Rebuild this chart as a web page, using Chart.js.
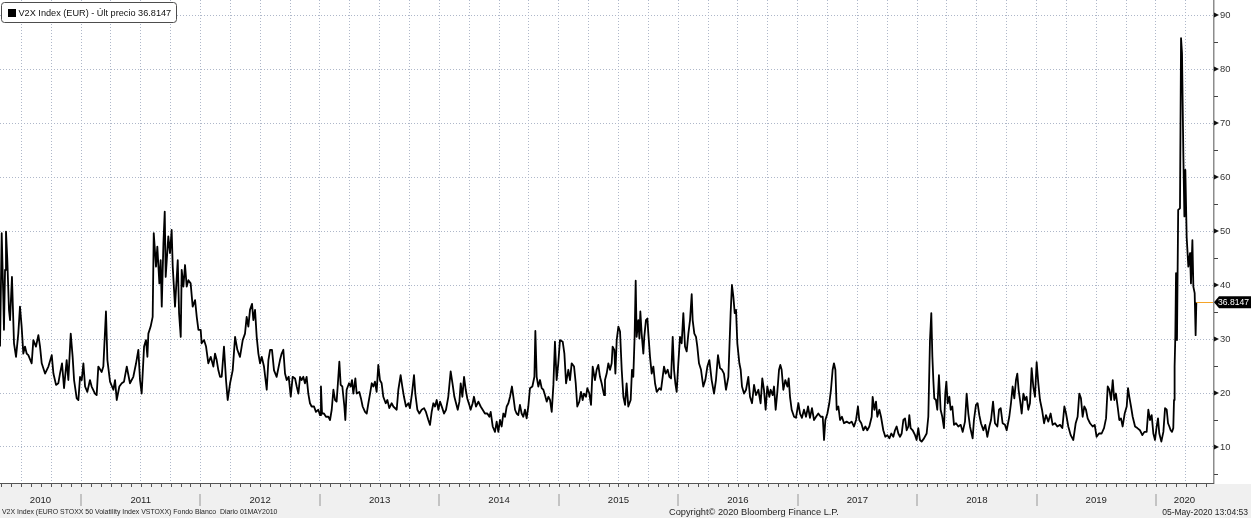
<!DOCTYPE html>
<html>
<head>
<meta charset="utf-8">
<script src="https://cdn.jsdelivr.net/npm/chart.js@4.4.1/dist/chart.umd.min.js"></script>
<style>
html,body{margin:0;padding:0;background:#fff;overflow:hidden}
canvas{display:block}
</style>
</head>
<body>
<canvas id="c" width="1251" height="518"></canvas>
<script>
// ---- DATA (decimal year, V2X level) ----
const y2010 = [[2010.322,28.6],[2010.336,49.6],[2010.350,37.2],[2010.355,31.7],[2010.364,42.8],[2010.372,49.9],[2010.383,44.6],[2010.397,35.4],[2010.406,33.5],[2010.422,41.5],[2010.439,29.2],[2010.456,26.7],[2010.475,31.0],[2010.489,36.0],[2010.503,32.3],[2010.517,27.3],[2010.531,28.6],[2010.545,27.3],[2010.559,27.0],[2010.587,25.5],[2010.601,29.8],[2010.623,28.6],[2010.643,30.7],[2010.657,28.6],[2010.671,25.5],[2010.699,23.6],[2010.727,24.9],[2010.755,27.0],[2010.769,23.6],[2010.791,21.5],[2010.810,21.8],[2010.824,23.6],[2010.841,25.5],[2010.858,20.9],[2010.880,26.1],[2010.894,22.4],[2010.914,31.0],[2010.930,26.7],[2010.942,22.4],[2010.964,19.0],[2010.978,18.7],[2010.992,23.0]];
const y2011 = [[2011.006,22.4],[2011.020,25.5],[2011.034,21.2],[2011.053,20.2],[2011.075,22.4],[2011.089,21.2],[2011.117,19.9],[2011.131,19.6],[2011.145,24.9],[2011.173,23.9],[2011.187,24.9],[2011.209,35.1],[2011.221,26.1],[2011.243,22.1],[2011.271,20.6],[2011.285,22.4],[2011.299,18.7],[2011.321,21.2],[2011.341,21.8],[2011.360,22.1],[2011.383,24.9],[2011.410,21.8],[2011.438,23.0],[2011.461,25.5],[2011.480,28.0],[2011.494,22.4],[2011.508,19.9],[2011.528,28.6],[2011.544,29.8],[2011.556,26.7],[2011.564,31.0],[2011.583,32.3],[2011.600,34.1],[2011.609,49.6],[2011.628,43.4],[2011.639,47.1],[2011.656,40.3],[2011.667,44.6],[2011.676,36.0],[2011.690,47.7],[2011.701,53.6],[2011.709,41.5],[2011.731,49.0],[2011.745,45.9],[2011.759,50.2],[2011.768,43.4],[2011.787,36.0],[2011.810,44.6],[2011.821,34.8],[2011.835,30.4],[2011.843,42.8],[2011.857,39.7],[2011.871,43.7],[2011.885,39.7],[2011.899,40.9],[2011.918,40.3],[2011.935,36.0],[2011.955,37.2],[2011.969,34.1],[2011.983,31.7]];
const y2012 = [[2012.002,31.7],[2012.010,29.2],[2012.030,29.8],[2012.047,28.6],[2012.066,25.5],[2012.086,26.7],[2012.108,24.9],[2012.122,27.3],[2012.136,26.1],[2012.150,24.2],[2012.164,23.0],[2012.178,23.0],[2012.197,28.6],[2012.214,22.4],[2012.228,18.7],[2012.248,21.8],[2012.270,24.2],[2012.290,30.4],[2012.309,28.0],[2012.331,26.7],[2012.354,29.8],[2012.373,31.0],[2012.387,34.1],[2012.401,32.3],[2012.415,35.4],[2012.432,36.5],[2012.443,33.5],[2012.457,35.4],[2012.471,30.4],[2012.485,27.3],[2012.499,25.5],[2012.513,26.7],[2012.532,24.9],[2012.555,20.6],[2012.569,26.1],[2012.583,28.0],[2012.599,28.0],[2012.616,24.2],[2012.638,23.0],[2012.666,26.1],[2012.680,27.3],[2012.694,28.0],[2012.708,23.6],[2012.722,22.4],[2012.739,23.0],[2012.756,19.3],[2012.772,23.0],[2012.792,22.7],[2012.806,21.2],[2012.820,19.9],[2012.834,23.0],[2012.847,22.4],[2012.861,23.0],[2012.875,21.8],[2012.889,23.0],[2012.903,19.9],[2012.917,18.1],[2012.931,17.5],[2012.951,17.5],[2012.967,16.5],[2012.987,16.9]];
const y2013 = [[2013.001,15.9],[2013.009,21.2],[2013.018,16.2],[2013.034,16.2],[2013.051,15.6],[2013.071,15.6],[2013.085,15.0],[2013.099,16.9],[2013.113,20.6],[2013.127,18.7],[2013.140,18.4],[2013.149,21.2],[2013.163,25.8],[2013.174,21.5],[2013.188,21.2],[2013.205,17.5],[2013.213,15.0],[2013.224,20.6],[2013.244,21.8],[2013.258,21.2],[2013.269,22.4],[2013.280,19.9],[2013.297,22.7],[2013.308,19.9],[2013.330,20.2],[2013.344,19.0],[2013.358,17.5],[2013.378,16.5],[2013.392,16.2],[2013.406,18.1],[2013.420,19.9],[2013.434,21.8],[2013.448,21.2],[2013.461,22.1],[2013.475,20.2],[2013.489,25.2],[2013.503,22.4],[2013.517,21.8],[2013.531,19.3],[2013.551,18.1],[2013.565,18.7],[2013.581,17.2],[2013.601,18.1],[2013.615,17.5],[2013.643,16.9],[2013.657,20.6],[2013.676,23.3],[2013.690,21.2],[2013.704,19.3],[2013.721,17.5],[2013.741,18.1],[2013.754,17.2],[2013.771,19.9],[2013.788,23.3],[2013.799,19.9],[2013.816,16.9],[2013.833,16.2],[2013.852,16.9],[2013.872,17.2],[2013.888,16.5],[2013.908,15.0],[2013.922,14.1],[2013.936,16.5],[2013.950,18.1],[2013.964,17.5],[2013.978,18.7],[2013.992,16.9]];
const y2014 = [[2014.006,18.4],[2014.025,17.2],[2014.039,16.2],[2014.056,16.9],[2014.075,19.3],[2014.095,24.0],[2014.112,21.5],[2014.126,19.3],[2014.140,18.1],[2014.154,16.9],[2014.168,18.4],[2014.179,21.8],[2014.193,19.3],[2014.207,23.0],[2014.221,20.6],[2014.234,19.0],[2014.251,17.8],[2014.262,16.9],[2014.279,18.1],[2014.290,19.3],[2014.307,17.5],[2014.327,18.4],[2014.346,17.5],[2014.363,16.9],[2014.382,16.2],[2014.402,16.2],[2014.419,15.6],[2014.430,16.5],[2014.447,13.8],[2014.466,12.8],[2014.480,14.7],[2014.494,12.8],[2014.508,15.0],[2014.522,13.8],[2014.536,16.2],[2014.550,15.6],[2014.564,17.5],[2014.578,18.1],[2014.592,19.3],[2014.608,21.2],[2014.620,19.3],[2014.634,16.9],[2014.647,16.2],[2014.661,15.9],[2014.675,17.8],[2014.689,16.2],[2014.703,15.6],[2014.717,16.9],[2014.731,15.3],[2014.745,17.5],[2014.759,20.9],[2014.779,21.2],[2014.796,23.0],[2014.804,31.5],[2014.815,23.0],[2014.829,21.2],[2014.843,22.4],[2014.857,20.9],[2014.871,20.6],[2014.885,19.6],[2014.899,18.4],[2014.913,19.3],[2014.927,18.7],[2014.941,16.5],[2014.955,21.5],[2014.968,29.5],[2014.982,22.4],[2014.996,25.5]];
const y2015 = [[2015.010,29.8],[2015.033,29.5],[2015.047,27.3],[2015.061,21.8],[2015.080,24.3],[2015.094,22.4],[2015.108,25.5],[2015.128,24.9],[2015.142,21.8],[2015.155,17.5],[2015.172,18.4],[2015.186,20.2],[2015.200,18.7],[2015.211,19.9],[2015.228,19.3],[2015.239,20.9],[2015.256,19.9],[2015.270,17.8],[2015.284,24.9],[2015.303,22.4],[2015.317,24.3],[2015.331,25.2],[2015.345,23.0],[2015.359,21.8],[2015.379,19.6],[2015.387,22.4],[2015.401,23.6],[2015.415,25.5],[2015.429,24.3],[2015.443,25.5],[2015.451,28.6],[2015.465,28.0],[2015.474,23.6],[2015.485,29.8],[2015.499,32.3],[2015.513,31.4],[2015.527,24.3],[2015.541,19.3],[2015.555,17.8],[2015.568,21.8],[2015.582,17.5],[2015.602,18.7],[2015.613,24.3],[2015.624,23.0],[2015.635,30.4],[2015.644,40.8],[2015.652,30.4],[2015.666,33.5],[2015.675,30.1],[2015.683,35.1],[2015.694,31.0],[2015.708,27.3],[2015.716,30.4],[2015.730,33.5],[2015.742,33.8],[2015.750,31.0],[2015.764,26.7],[2015.778,23.6],[2015.792,24.9],[2015.806,21.8],[2015.820,20.2],[2015.842,20.9],[2015.856,20.6],[2015.870,23.0],[2015.881,24.9],[2015.895,23.6],[2015.912,24.3],[2015.926,23.0],[2015.940,22.7],[2015.954,30.4],[2015.965,24.3],[2015.976,21.8],[2015.987,20.2]];
const y2016 = [[2016.001,25.5],[2016.015,30.4],[2016.029,29.2],[2016.043,34.8],[2016.057,28.6],[2016.071,27.7],[2016.085,31.0],[2016.099,33.5],[2016.113,38.3],[2016.121,33.5],[2016.135,31.0],[2016.149,30.4],[2016.160,28.6],[2016.174,25.5],[2016.191,24.3],[2016.210,21.2],[2016.227,22.4],[2016.244,24.9],[2016.261,26.1],[2016.280,22.4],[2016.300,19.9],[2016.316,22.4],[2016.333,27.0],[2016.350,24.6],[2016.367,24.3],[2016.383,23.6],[2016.400,20.6],[2016.420,23.0],[2016.439,34.8],[2016.450,40.0],[2016.462,37.8],[2016.473,34.8],[2016.484,35.4],[2016.495,29.2],[2016.512,25.5],[2016.523,24.3],[2016.534,21.2],[2016.551,19.9],[2016.568,20.6],[2016.587,23.0],[2016.601,19.3],[2016.618,18.1],[2016.635,21.5],[2016.651,19.6],[2016.671,20.6],[2016.690,18.1],[2016.704,22.7],[2016.718,20.6],[2016.732,16.9],[2016.746,21.2],[2016.763,19.3],[2016.774,20.6],[2016.791,19.6],[2016.802,21.2],[2016.816,16.9],[2016.830,20.2],[2016.844,24.3],[2016.855,25.2],[2016.866,24.3],[2016.880,20.6],[2016.897,22.4],[2016.914,21.2],[2016.925,22.7],[2016.936,19.3],[2016.950,16.9],[2016.970,15.6],[2016.986,15.4]];
const y2017 = [[2017.006,18.1],[2017.020,16.2],[2017.036,15.4],[2017.053,16.9],[2017.070,15.6],[2017.087,17.5],[2017.103,15.4],[2017.120,17.2],[2017.137,15.0],[2017.154,15.6],[2017.173,16.2],[2017.193,15.6],[2017.210,15.6],[2017.221,11.3],[2017.232,15.0],[2017.249,16.2],[2017.265,18.1],[2017.279,20.6],[2017.293,24.3],[2017.304,25.5],[2017.316,24.3],[2017.327,16.9],[2017.341,17.5],[2017.355,15.0],[2017.371,15.6],[2017.388,14.4],[2017.410,14.7],[2017.433,14.4],[2017.452,14.7],[2017.472,13.8],[2017.489,15.0],[2017.505,17.5],[2017.516,15.0],[2017.533,14.4],[2017.550,13.1],[2017.567,13.8],[2017.583,13.1],[2017.600,13.8],[2017.620,15.6],[2017.628,19.3],[2017.642,16.9],[2017.656,18.4],[2017.667,15.6],[2017.684,16.9],[2017.698,15.6],[2017.717,13.1],[2017.734,11.9],[2017.751,12.2],[2017.768,11.6],[2017.784,12.5],[2017.801,11.9],[2017.815,13.1],[2017.829,13.8],[2017.843,12.5],[2017.857,11.9],[2017.871,12.5],[2017.885,15.0],[2017.899,15.3],[2017.913,13.1],[2017.927,13.8],[2017.935,15.9],[2017.946,13.5],[2017.963,13.1],[2017.983,12.2],[2017.996,11.3]];
const y2018 = [[2018.010,13.5],[2018.024,11.3],[2018.038,11.0],[2018.058,11.6],[2018.080,12.5],[2018.094,15.6],[2018.108,29.8],[2018.119,34.8],[2018.128,26.7],[2018.136,22.4],[2018.144,19.0],[2018.158,18.7],[2018.169,16.9],[2018.183,23.3],[2018.197,16.9],[2018.211,15.6],[2018.225,13.5],[2018.236,19.9],[2018.245,22.1],[2018.256,18.1],[2018.270,19.3],[2018.281,16.9],[2018.295,17.5],[2018.309,14.1],[2018.326,14.4],[2018.345,13.8],[2018.365,14.1],[2018.382,12.8],[2018.401,14.7],[2018.415,19.9],[2018.429,16.2],[2018.443,13.8],[2018.465,11.6],[2018.476,15.0],[2018.493,17.8],[2018.507,18.1],[2018.521,15.9],[2018.535,14.4],[2018.555,13.1],[2018.571,14.1],[2018.588,11.9],[2018.605,13.8],[2018.619,15.0],[2018.636,18.4],[2018.652,14.4],[2018.672,13.8],[2018.686,16.9],[2018.700,17.2],[2018.716,14.4],[2018.736,14.1],[2018.750,13.1],[2018.772,15.6],[2018.786,18.1],[2018.800,21.2],[2018.814,19.0],[2018.828,22.4],[2018.839,23.6],[2018.850,20.6],[2018.862,18.7],[2018.876,16.2],[2018.890,19.9],[2018.903,18.7],[2018.917,19.3],[2018.931,16.9],[2018.945,18.1],[2018.959,24.6],[2018.973,21.2],[2018.987,19.3]];
const y2019 = [[2019.001,25.7],[2019.015,21.8],[2019.029,18.7],[2019.046,16.9],[2019.063,14.4],[2019.079,15.9],[2019.099,14.7],[2019.118,16.2],[2019.135,14.1],[2019.155,14.4],[2019.174,13.8],[2019.197,14.1],[2019.216,13.5],[2019.233,17.5],[2019.247,16.2],[2019.266,13.8],[2019.286,12.2],[2019.308,11.3],[2019.328,14.4],[2019.344,15.6],[2019.358,19.9],[2019.372,19.0],[2019.386,15.6],[2019.400,17.5],[2019.414,16.9],[2019.428,15.3],[2019.448,14.4],[2019.470,13.8],[2019.487,14.1],[2019.503,11.9],[2019.523,12.5],[2019.545,12.5],[2019.565,13.5],[2019.582,15.3],[2019.596,21.2],[2019.610,20.6],[2019.624,18.7],[2019.638,22.4],[2019.651,18.7],[2019.665,19.9],[2019.679,17.5],[2019.693,15.0],[2019.707,15.3],[2019.721,13.8],[2019.738,16.2],[2019.755,17.5],[2019.766,20.9],[2019.777,19.3],[2019.791,17.5],[2019.805,15.6],[2019.825,13.8],[2019.844,13.5],[2019.866,13.1],[2019.886,12.2],[2019.903,12.8],[2019.922,12.8],[2019.936,16.9],[2019.950,15.0],[2019.964,15.9],[2019.978,12.5],[2019.992,11.3]];
const y2020 = [[2020.006,13.8],[2020.017,15.3],[2020.028,12.5],[2020.045,11.0],[2020.062,12.8],[2020.076,17.2],[2020.090,16.9],[2020.101,14.4],[2020.112,13.8],[2020.123,13.1],[2020.134,12.8],[2020.145,13.5],[2020.151,18.7],[2020.156,24.9],[2020.162,30.4],[2020.168,42.2],[2020.176,29.8],[2020.186,53.9],[2020.201,54.2],[2020.210,85.7],[2020.218,82.9],[2020.229,64.4],[2020.238,52.7],[2020.246,61.3],[2020.257,48.9],[2020.271,43.4],[2020.285,45.9],[2020.293,40.3],[2020.305,48.3],[2020.313,39.7],[2020.324,38.5],[2020.332,30.7],[2020.338,36.8147]];

const lastPrice = 36.8147;
const lastDate = 2020.338;
const yTickValues = [10, 20, 30, 40, 50, 60, 70, 80, 90];
const yMinorTicks = [5, 15, 25, 35, 45, 55, 65, 75, 85];
const yearLabels = ['2010','2011','2012','2013','2014','2015','2016','2017','2018','2019','2020'];
const legendText = 'V2X Index (EUR) - Últ precio 36.8147';
const priceTag = '36.8147';
const footerLeft = 'V2X Index (EURO STOXX 50 Volatility Index VSTOXX) Fondo Blanco  Diario 01MAY2010';
const footerMid = 'Copyright\u00A9 2020 Bloomberg Finance L.P.';
const footerRight = '05-May-2020 13:04:53';

// ---- axis ranges ----
const X_MIN = 2010.3218, X_MAX = 2020.4775;
const Y_MIN = 3.333, Y_MAX = 92.78;

const FONT = '"Liberation Sans", Arial, sans-serif';
const GRID = '#aeb7c9';

const points = [].concat(y2010, y2011, y2012, y2013, y2014, y2015, y2016, y2017, y2018, y2019, y2020)
  .map(([x, y]) => ({ x, y }));

const quarterTicks = [];
for (let q = 2010.5; q <= 2020.26; q += 0.25) quarterTicks.push(+q.toFixed(2));

function fitSize(ctx, text, targetW) {
  ctx.font = '100px ' + FONT;
  return 100 * targetW / ctx.measureText(text).width;
}

const bbg = {
  id: 'bbg',
  beforeDraw(chart) {
    const { ctx, width, height, chartArea: a } = chart;
    ctx.save();
    ctx.fillStyle = '#ffffff';
    ctx.fillRect(0, 0, width, height);
    ctx.fillStyle = '#f0f0f0';
    ctx.fillRect(0, a.bottom + 1, width, height - a.bottom - 1);
    ctx.restore();
  },
  afterDraw(chart) {
    const { ctx, width, height, chartArea: a } = chart;
    const xs = chart.scales.x, ys = chart.scales.y;
    ctx.save();

    // right axis line
    ctx.strokeStyle = '#8c8c8c';
    ctx.lineWidth = 1.5;
    ctx.beginPath();
    ctx.moveTo(a.right + 0.75, 0);
    ctx.lineTo(a.right + 0.75, a.bottom + 1);
    ctx.stroke();

    // bottom axis line
    ctx.strokeStyle = '#555';
    ctx.lineWidth = 1;
    ctx.beginPath();
    ctx.moveTo(0, a.bottom + 0.5);
    ctx.lineTo(a.right + 1, a.bottom + 0.5);
    ctx.stroke();

    // monthly ticks
    ctx.beginPath();
    for (let yr = 2010; yr <= 2020; yr++) {
      for (let m = 0; m < 12; m++) {
        const v = yr + m / 12;
        if (v < X_MIN || v > X_MAX) continue;
        const px = Math.round(xs.getPixelForValue(v)) + 0.5;
        ctx.moveTo(px, a.bottom);
        ctx.lineTo(px, a.bottom + 4);
      }
    }
    ctx.stroke();

    // year separators
    ctx.strokeStyle = '#b4b4b4';
    ctx.lineWidth = 1.5;
    ctx.beginPath();
    for (let yr = 2011; yr <= 2020; yr++) {
      const px = Math.round(xs.getPixelForValue(yr));
      ctx.moveTo(px, a.bottom + 11);
      ctx.lineTo(px, a.bottom + 23);
    }
    ctx.stroke();

    // year labels
    ctx.fillStyle = '#1e1e1e';
    ctx.font = '9.6px ' + FONT;
    ctx.textAlign = 'center';
    ctx.textBaseline = 'middle';
    yearLabels.forEach((lab, i) => {
      const y0 = 2010 + i;
      const p0 = Math.max(a.left, xs.getPixelForValue(y0));
      const p1 = Math.min(a.right, xs.getPixelForValue(y0 + 1));
      ctx.fillText(lab, (p0 + p1) / 2, a.bottom + 17.5);
    });

    // footer
    ctx.textAlign = 'left';
    let s = fitSize(ctx, footerLeft, 276);
    ctx.font = s + 'px ' + FONT;
    ctx.fillText(footerLeft, 2, height - 5.5);
    s = fitSize(ctx, footerMid, 170);
    ctx.font = s + 'px ' + FONT;
    ctx.fillText(footerMid, 669, height - 5.5);
    s = fitSize(ctx, footerRight, 86);
    ctx.font = s + 'px ' + FONT;
    ctx.textAlign = 'right';
    ctx.fillText(footerRight, width - 3, height - 5.5);

    // right axis tick marks
    ctx.fillStyle = '#111';
    yTickValues.forEach(v => {
      const py = ys.getPixelForValue(v);
      ctx.beginPath();
      ctx.moveTo(a.right + 1, py - 2.5);
      ctx.lineTo(a.right + 6, py);
      ctx.lineTo(a.right + 1, py + 2.5);
      ctx.closePath();
      ctx.fill();
    });
    ctx.strokeStyle = '#444';
    ctx.lineWidth = 1;
    ctx.beginPath();
    yMinorTicks.forEach(v => {
      const py = Math.round(ys.getPixelForValue(v)) + 0.5;
      ctx.moveTo(a.right + 1, py);
      ctx.lineTo(a.right + 5, py);
    });
    ctx.stroke();

    // last price marker
    const ly = ys.getPixelForValue(lastPrice);
    const lx = xs.getPixelForValue(lastDate);
    ctx.strokeStyle = '#f5a428';
    ctx.lineWidth = 1;
    ctx.beginPath();
    ctx.moveTo(lx, Math.round(ly) + 0.5);
    ctx.lineTo(a.right, Math.round(ly) + 0.5);
    ctx.stroke();
    ctx.fillStyle = '#000';
    ctx.beginPath();
    ctx.moveTo(a.right + 1, ly);
    ctx.lineTo(a.right + 6, ly - 6);
    ctx.lineTo(width, ly - 6);
    ctx.lineTo(width, ly + 6);
    ctx.lineTo(a.right + 6, ly + 6);
    ctx.closePath();
    ctx.fill();
    ctx.fillStyle = '#fff';
    s = fitSize(ctx, priceTag, 31);
    ctx.font = s + 'px ' + FONT;
    ctx.textAlign = 'left';
    ctx.textBaseline = 'middle';
    ctx.fillText(priceTag, a.right + 5, ly + 0.5);

    // legend box
    ctx.fillStyle = '#fff';
    ctx.strokeStyle = '#4d4d4d';
    ctx.lineWidth = 1;
    ctx.beginPath();
    ctx.roundRect(1.5, 2.5, 175, 20, 3);
    ctx.fill();
    ctx.stroke();
    ctx.fillStyle = '#000';
    ctx.fillRect(8, 9, 8, 8);
    s = fitSize(ctx, legendText, 153);
    ctx.font = s + 'px ' + FONT;
    ctx.fillStyle = '#111';
    ctx.textAlign = 'left';
    ctx.textBaseline = 'middle';
    ctx.fillText(legendText, 18.5, 13);

    ctx.restore();
  }
};

new Chart(document.getElementById('c'), {
  type: 'line',
  data: {
    datasets: [{
      label: legendText,
      data: points,
      borderColor: '#000',
      borderWidth: 1.8,
      borderJoinStyle: 'round',
      pointRadius: 0,
      tension: 0,
      fill: false
    }]
  },
  options: {
    responsive: false,
    animation: false,
    devicePixelRatio: 1,
    layout: { padding: 0, autoPadding: false },
    plugins: { legend: { display: false }, tooltip: { enabled: false } },
    scales: {
      x: {
        type: 'linear',
        position: 'bottom',
        min: X_MIN,
        max: X_MAX,
        afterBuildTicks: sc => { sc.ticks = quarterTicks.map(v => ({ value: v })); },
        afterFit: sc => { sc.height = 35; },
        ticks: { display: false },
        grid: { color: GRID, lineWidth: 1, drawTicks: false },
        border: { display: false, dash: [1, 2] }
      },
      y: {
        position: 'right',
        min: Y_MIN,
        max: Y_MAX,
        afterBuildTicks: sc => { sc.ticks = yTickValues.map(v => ({ value: v })); },
        afterFit: sc => { sc.width = 38; sc.paddingTop = 0; sc.paddingBottom = 0; },
        ticks: {
          padding: 7,
          color: '#333',
          font: { family: FONT, size: 9.4 },
          callback: v => String(v)
        },
        grid: { color: GRID, lineWidth: 1, drawTicks: false },
        border: { display: false, dash: [1, 2] }
      }
    }
  },
  plugins: [bbg]
});
</script>
</body>
</html>
